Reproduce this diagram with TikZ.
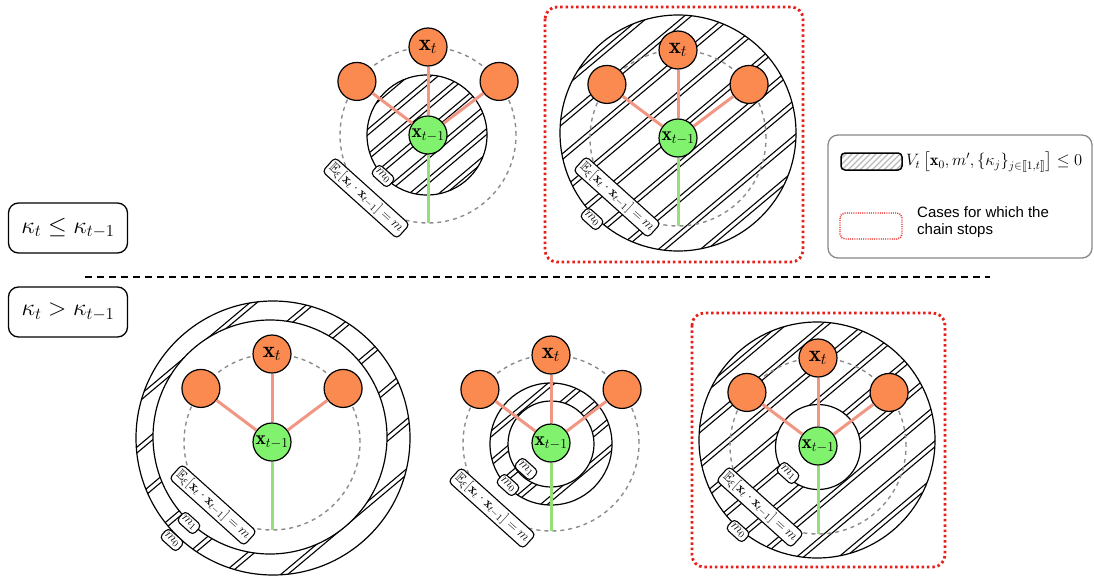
\RequirePackage{fix-cm}
\documentclass[tikz,border=0pt]{standalone}
\usepackage{amsmath,amssymb,stmaryrd}
\usepackage{fontspec}
\newfontfamily\legendsf{Liberation Sans}
\usetikzlibrary{calc}
\definecolor{orgfill}{RGB}{250,138,80}
\definecolor{grnfill}{RGB}{128,242,110}
\definecolor{salmon}{RGB}{242,150,132}
\definecolor{lgreen}{RGB}{150,222,120}
\definecolor{stopred}{RGB}{232,30,25}
\definecolor{dgray}{RGB}{140,140,140}
\definecolor{leggray}{RGB}{135,135,135}
\tikzset{
  onode/.style={circle, draw, line width=1.2pt, fill=orgfill, minimum size=38pt, inner sep=0pt, font=\fontsize{23}{26}\selectfont},
  gnode/.style={circle, draw, line width=1.2pt, fill=grnfill, minimum size=38pt, inner sep=0pt, font=\fontsize{19.5}{23}\selectfont},
  redlink/.style={salmon, line width=3pt},
  grnlink/.style={lgreen, line width=3pt},
  dashcirc/.style={dgray, line width=1.4pt, dash pattern=on 4pt off 4pt},
  circ/.style={line width=1.2pt},
  hatchline/.style={line width=1.1pt},
  lbl/.style={draw, rounded corners=4pt, fill=white, line width=1.1pt, rotate=-42, inner sep=2.5pt, font=\fontsize{13.5}{16}\selectfont},
  stopbox/.style={stopred, line width=2.8pt, dash pattern=on 2.5pt off 2.8pt, rounded corners=12pt},
  kbox/.style={draw, rounded corners=10pt, line width=1.3pt, minimum width=119pt, minimum height=50pt, font=\fontsize{24}{28}\selectfont},
  sepline/.style={line width=2.6pt, dash pattern=on 7pt off 5pt}
}
% cx, cy, radius, spacing
\newcommand\myhatch[4]{%
  \begin{scope}
    \clip (#1,#2) circle (#3pt);
    \begin{scope}[shift={(#1,#2)},rotate=40]
      \foreach \k in {-12,...,12}{
        \draw[hatchline] ({-#3-5},{\k*#4}) -- ({#3+5},{\k*#4});
        \draw[hatchline] ({-#3-5},{\k*#4+4.5}) -- ({#3+5},{\k*#4+4.5});
      }
    \end{scope}
  \end{scope}}
\newcommand\netdiag[3]{%
  \draw[dashcirc] (#2,#3) circle (88pt);
  \node[gnode] (#1g) at (#2,#3) {$\mathbf{x}_{t-1}$};
  \node[onode] (#1t) at ($(#1g)+(90:88pt)$) {$\mathbf{x}_t$};
  \node[onode] (#1l) at ($(#1g)+(143:89pt)$) {};
  \node[onode] (#1r) at ($(#1g)+(37:89pt)$) {};
  \coordinate (#1b) at ($(#1g)+(0,-88pt)$);
  \draw[redlink] (#1g) -- (#1t);
  \draw[redlink] (#1g) -- (#1l);
  \draw[redlink] (#1g) -- (#1r);
  \draw[grnlink] (#1g) -- (#1b);
}
\newcommand\Elabel{$\mathbb{E}_{\xi}[\mathbf{x}_t \cdot \mathbf{x}_{t-1}] = m$}
\begin{document}
\begin{tikzpicture}[x=1pt,y=1pt]
\useasboundingbox (0,0) rectangle (1094,-578);

% ---------- left labels and separator
\node[kbox] (k1) at (68,-228) {$\kappa_t \leq \kappa_{t-1}$};
\node[kbox] (k2) at (68,-312) {$\kappa_t > \kappa_{t-1}$};
\coordinate (s1) at (85,-277);
\coordinate (s2) at (990,-277);
\draw[sepline] (s1) -- (s2);

% ---------- top-left
\myhatch{427}{-135}{60}{19}
\draw[circ] (427,-135) circle (60pt);
\netdiag{tl}{428}{-135}
\node[lbl] (tlm0) at (383,-176) {$m_0$};
\node[lbl] (tlE) at (366,-198) {\Elabel};

% ---------- top-right
\draw[stopbox] (545,-7) rectangle (803,-262);
\myhatch{678}{-133}{118}{27}
\draw[circ] (678,-133) circle (118pt);
\netdiag{tr}{678}{-138}
\node[lbl] (trm0) at (592,-219) {$m_0$};
\node[lbl] (trE) at (617,-197) {\Elabel};

% ---------- bottom-left
\myhatch{273}{-438}{137}{38}
\fill[white] (270,-437) circle (117pt);
\draw[circ] (273,-438) circle (137pt);
\draw[circ] (270,-437) circle (117pt);
\netdiag{bl}{272}{-442}
\node[lbl] (blE) at (213,-505) {\Elabel};
\node[lbl] (blm1) at (189,-523) {$m_1$};
\node[lbl] (blm0) at (172,-540) {$m_0$};

% ---------- bottom-middle
\myhatch{551}{-444}{61}{22}
\fill[white] (551,-444) circle (43pt);
\draw[circ] (551,-444) circle (61pt);
\draw[circ] (551,-444) circle (43pt);
\netdiag{bm}{551}{-443}
\node[lbl] (bmE) at (492,-508) {\Elabel};
\node[lbl] (bmm1) at (526,-469) {$m_1$};
\node[lbl] (bmm0) at (508,-485) {$m_0$};

% ---------- bottom-right
\draw[stopbox] (692,-313) rectangle (945,-567);
\myhatch{817}{-440}{118}{27}
\fill[white] (818,-447) circle (42.5pt);
\draw[circ] (817,-440) circle (118pt);
\draw[circ] (818,-447) circle (42.5pt);
\netdiag{br}{818}{-446}
\node[lbl] (brm1) at (788,-473) {$m_1$};
\node[lbl] (brE) at (760,-507) {\Elabel};
\node[lbl] (brm0) at (738,-531) {$m_0$};

% ---------- legend
\draw[leggray, line width=1.3pt, rounded corners=10pt] (828,-135) rectangle (1092,-258);
\begin{scope}
  \clip[rounded corners=4pt] (841,-153) rectangle (902,-170);
  \foreach \k in {-4,...,12}{
    \draw[gray!55, line width=1.2pt] (841+\k*6,-171) -- ++(19,19);
  }
\end{scope}
\draw[line width=1.5pt, rounded corners=4pt] (841,-153) rectangle (902,-170);
\node[anchor=west, inner sep=0pt, font=\fontsize{16.5}{19}\selectfont] (lg1) at (906,-162)
  {$V_t\left[\mathbf{x}_0, m', \{\kappa_j\}_{j\in\llbracket 1,t\rrbracket}\right] \leq 0$};
\draw[stopred, line width=1.4pt, dash pattern=on 1pt off 1.2pt, rounded corners=5pt] (840,-213) rectangle (902,-239);
\node[anchor=west, align=left, inner sep=0pt, font=\legendsf\fontsize{15}{17.5}\selectfont] (lg2) at (917,-222)
  {Cases for which the\\chain stops};
\end{tikzpicture}
\end{document}
